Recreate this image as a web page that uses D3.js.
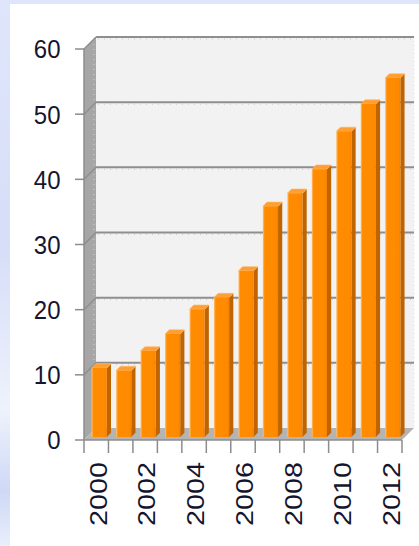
<!DOCTYPE html>
<html>
<head>
<meta charset="utf-8">
<script src="https://cdn.jsdelivr.net/npm/d3@7"></script>
<style>
  html, body { margin: 0; padding: 0; background: #ffffff; overflow: hidden; }
  svg { display: block; }
</style>
</head>
<body>
<svg id="chart" width="419" height="546"></svg>
<script>
// Yearly series
const years = ["2000", "2001", "2002", "2003", "2004", "2005", "2006",
               "2007", "2008", "2009", "2010", "2011", "2012"];
const values = [10.6, 10.2, 13.2, 15.8, 19.6, 21.4, 25.5, 35.4, 37.4, 41.1, 46.9, 51.1, 55.1];
const yTicks = [0, 10, 20, 30, 40, 50, 60];
const yearLabels = years.filter((d, i) => i % 2 === 0);

(function () {
const W = 419, H = 546;
const svg = d3.select("#chart");
const defs = svg.append("defs");

// Plot frame (front plane) and 3D depth offset
const plotLeft = 84, plotRight = 402, plotBottom = 440, plotTop = 49;
const DX = 12, DY = 12;

const x = d3.scaleBand().domain(years).range([plotLeft, plotRight])
  .paddingInner(0.38).paddingOuter(0.19);
const xCat = d3.scaleBand().domain(years).range([plotLeft, plotRight]).padding(0);
const y = d3.scaleLinear().domain([0, 60]).range([plotBottom, plotTop]);

// oblique projection: z = 0 front plane, z = 1 back wall
const proj = (px, v, z) => [px + z * DX, y(v) - z * DY];
const poly = pts => pts.map(p => p.join(",")).join(" ");

// ---- page background ----
const bg = defs.append("linearGradient").attr("id", "bgGrad")
  .attr("x1", 0).attr("y1", 0).attr("x2", 0).attr("y2", 1);
bg.append("stop").attr("offset", "0%").attr("stop-color", "#dfe6fb");
bg.append("stop").attr("offset", "45%").attr("stop-color", "#d6def8");
bg.append("stop").attr("offset", "75%").attr("stop-color", "#eef2fc");
bg.append("stop").attr("offset", "90%").attr("stop-color", "#cfd9f6");
bg.append("stop").attr("offset", "100%").attr("stop-color", "#e9eefb");
svg.append("rect").attr("width", W).attr("height", H).attr("fill", "url(#bgGrad)");
svg.append("rect").attr("x", 10).attr("y", 4).attr("width", W - 10).attr("height", H - 4)
  .attr("fill", "#ffffff");

// ---- walls and floor ----
const g = svg.append("g");

// left side wall
g.append("polygon")
  .attr("points", poly([proj(plotLeft, 0, 0), proj(plotLeft, 60, 0), proj(plotLeft, 60, 1), proj(plotLeft, 0, 1)]))
  .attr("fill", "#a6a6a6");
g.append("line")
  .attr("x1", plotLeft + DX - 2).attr("y1", y(60) - DY + 2)
  .attr("x2", plotLeft + DX - 2).attr("y2", y(0) - DY)
  .attr("stroke", "#d2d2d2").attr("stroke-width", 1).attr("stroke-dasharray", "1,4");

// back wall
g.append("polygon")
  .attr("points", poly([proj(plotLeft, 60, 1), proj(plotRight, 60, 1), proj(plotRight, 0, 1), proj(plotLeft, 0, 1)]))
  .attr("fill", "#f2f2f2");
g.append("line")
  .attr("x1", plotRight + DX).attr("y1", y(60) - DY)
  .attr("x2", plotRight + DX).attr("y2", y(0) - DY)
  .attr("stroke", "#e2e2e2").attr("stroke-width", 1).attr("stroke-dasharray", "1,3");

// floor
g.append("polygon")
  .attr("points", poly([proj(plotLeft, 0, 0), proj(plotRight, 0, 0), proj(plotRight, 0, 1), proj(plotLeft, 0, 1)]))
  .attr("fill", "#b4b4b4");

// gridlines on the back wall and across the side wall
yTicks.filter(v => v > 0).forEach(v => {
  const a = proj(plotLeft, v, 1), b = proj(plotRight, v, 1);
  g.append("line").attr("x1", a[0]).attr("y1", a[1]).attr("x2", b[0]).attr("y2", b[1])
    .attr("stroke", "#8e8e8e").attr("stroke-width", 2);
  g.append("line").attr("x1", a[0] + 2).attr("y1", a[1] + 2).attr("x2", b[0]).attr("y2", b[1] + 2)
    .attr("stroke", "#c8c8c8").attr("stroke-width", 1).attr("stroke-dasharray", "1,5");
  const c = proj(plotLeft, v, 0);
  g.append("line").attr("x1", c[0]).attr("y1", c[1]).attr("x2", a[0]).attr("y2", a[1])
    .attr("stroke", "#8e8e8e").attr("stroke-width", 1.5);
});

// ---- bars ----
const frontGrad = defs.append("linearGradient").attr("id", "barFront")
  .attr("x1", 0).attr("y1", 0).attr("x2", 1).attr("y2", 0);
frontGrad.append("stop").attr("offset", "0%").attr("stop-color", "#ffc27a");
frontGrad.append("stop").attr("offset", "12%").attr("stop-color", "#ff8c00");
frontGrad.append("stop").attr("offset", "88%").attr("stop-color", "#ff8a00");
frontGrad.append("stop").attr("offset", "100%").attr("stop-color", "#f27f00");

const z0 = 0.25, z1 = 0.6;
const bars = g.append("g").selectAll("g.bar")
  .data(years.map((yr, i) => ({ yr, v: values[i] })))
  .join("g").attr("class", "bar");

bars.append("polygon") // right side
  .attr("points", d => {
    const x1 = x(d.yr) + x.bandwidth();
    return poly([proj(x1, 0, z0), proj(x1, 0, z1), proj(x1, d.v, z1), proj(x1, d.v, z0)]);
  })
  .attr("fill", "#c06400");
bars.append("polygon") // top
  .attr("points", d => {
    const x0 = x(d.yr), x1 = x0 + x.bandwidth();
    return poly([proj(x0, d.v, z0), proj(x1, d.v, z0), proj(x1, d.v, z1), proj(x0, d.v, z1)]);
  })
  .attr("fill", "#ff9f33").attr("stroke", "#ffb566").attr("stroke-width", 0.6);
bars.append("polygon") // front
  .attr("points", d => {
    const x0 = x(d.yr), x1 = x0 + x.bandwidth();
    return poly([proj(x0, 0, z0), proj(x1, 0, z0), proj(x1, d.v, z0), proj(x0, d.v, z0)]);
  })
  .attr("fill", "url(#barFront)");

// ---- axes ----
const axisColor = "#8c8c8c";
// value axis
g.append("line").attr("x1", plotLeft).attr("y1", y(0)).attr("x2", plotLeft).attr("y2", y(60))
  .attr("stroke", axisColor).attr("stroke-width", 1.5);
yTicks.forEach(v => {
  g.append("line").attr("x1", plotLeft - 9).attr("y1", y(v)).attr("x2", plotLeft).attr("y2", y(v))
    .attr("stroke", axisColor).attr("stroke-width", 1.5);
});
// category axis
g.append("line").attr("x1", plotLeft).attr("y1", plotBottom).attr("x2", plotRight).attr("y2", plotBottom)
  .attr("stroke", axisColor).attr("stroke-width", 1.5);
const catEdges = years.map(d => xCat(d)).concat([plotRight]);
catEdges.forEach(cx => {
  g.append("line").attr("x1", cx).attr("y1", plotBottom).attr("x2", cx).attr("y2", plotBottom + 13)
    .attr("stroke", axisColor).attr("stroke-width", 1.5);
});

// ---- labels ----
const font = "'Liberation Sans', Arial, sans-serif";
const textColor = "#15152e";

svg.append("g").selectAll("text").data(yTicks).join("text")
  .attr("transform", v => `translate(60.5,${y(v)}) scale(1,1.08)`)
  .attr("text-anchor", "end").attr("dy", "0.36em")
  .attr("font-family", font).attr("font-size", 24).attr("fill", textColor)
  .text(v => v);

svg.append("g").selectAll("text").data(yearLabels).join("text")
  .attr("transform", d => `translate(${xCat(d) + xCat.bandwidth() / 2 + 2},462) rotate(-90) scale(1.25,1)`)
  .attr("text-anchor", "end").attr("dy", "0.36em")
  .attr("font-family", font).attr("font-size", 23).attr("fill", textColor)
  .text(d => d);
})();
</script>
</body>
</html>
